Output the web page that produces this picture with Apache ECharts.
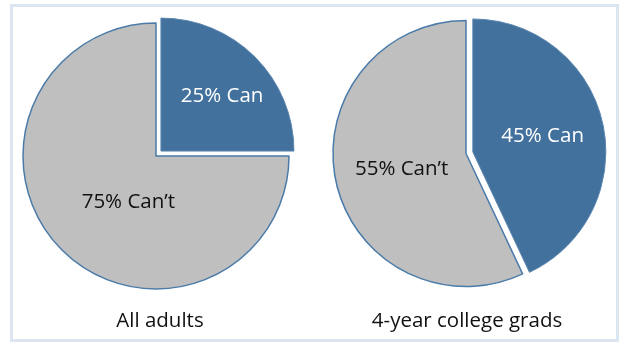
<!DOCTYPE html>
<html><head><meta charset="utf-8">
<script src="https://cdn.jsdelivr.net/npm/echarts@6/dist/echarts.min.js"></script>
<style>html,body{margin:0;padding:0;background:#fff}#c{width:620px;height:343px}</style>
</head><body><div id="c"></div>
<script>
const categories = ['Can', "Can\u2019t"];
// slice shares as drawn in the picture
const allAdults = [25, 75];
const collegeGrads = [43, 57];
// printed slice labels
const allAdultsLabels = ['25% Can', "75% Can\u2019t"];
const collegeGradsLabels = ['45% Can', "55% Can\u2019t"];
const groupLabels = ['All adults', '4-year college grads'];

const BLUE = '#41719C', GRAY = '#BFBFBF', EDGE = '#4A7BAA';
const font = '"Open Sans", "Noto Sans", sans-serif';
const FS = 20.5;

// nudges: [dx, dy] label shift from the slice bisector anchor
function mkData(vals, labels, nudges) {
  return vals.map((v, i) => {
    const [dx, dy] = nudges[i];
    const col = i === 0 ? '#ffffff' : '#111111';
    const fmt = dy < 0 ? '{t|' + labels[i] + '}\n{g| }' : (dy > 0 ? '{g| }\n{t|' + labels[i] + '}' : '{t|' + labels[i] + '}');
    return {
      name: categories[i], value: v, selected: i === 0,
      itemStyle: { color: i === 0 ? BLUE : GRAY, borderColor: i === 0 ? '#5b86b0' : EDGE, borderWidth: i === 0 ? 1 : 1.5 },
      label: {
        color: col, formatter: fmt,
        padding: dx >= 0 ? [0, 0, 0, 2 * dx] : [0, -2 * dx, 0, 0],
        rich: {
          t: { color: col, fontFamily: font, fontSize: FS },
          g: { height: Math.abs(dy) * 2, fontSize: 1, lineHeight: Math.abs(dy) * 2 }
        }
      }
    };
  });
}
function mkSeries(vals, labels, center, nudges) {
  return {
    type: 'pie', radius: 133, center: center, startAngle: 90, clockwise: true,
    selectedMode: 'multiple', selectedOffset: 7, animation: false, silent: true,
    label: { show: true, position: 'inside', fontFamily: font, fontSize: FS },
    labelLine: { show: false },
    emphasis: { disabled: true },
    data: mkData(vals, labels, nudges)
  };
}
const chart = echarts.init(document.getElementById('c'), null, { renderer: 'canvas' });
chart.setOption({
  backgroundColor: '#ffffff',
  graphic: [{ type: 'rect', shape: { x: 11.5, y: 5.5, width: 606, height: 335 },
    style: { fill: 'none', stroke: '#DCE6F1', lineWidth: 3 }, z: -1 }],
  title: [
    { text: groupLabels[0], left: 160, top: 311, textAlign: 'center', padding: 0,
      textStyle: { fontFamily: font, fontSize: FS, fontWeight: 'normal', color: '#111' } },
    { text: groupLabels[1], left: 467, top: 311, textAlign: 'center', padding: 0,
      textStyle: { fontFamily: font, fontSize: FS, fontWeight: 'normal', color: '#111' } }
  ],
  series: [
    mkSeries(allAdults, allAdultsLabels, [156, 156], [[12, -6], [21.5, -3]]),
    mkSeries(collegeGrads, collegeGradsLabels, [466, 153.5], [[2, -1], [3.5, 0]])
  ]
});
</script></body></html>
